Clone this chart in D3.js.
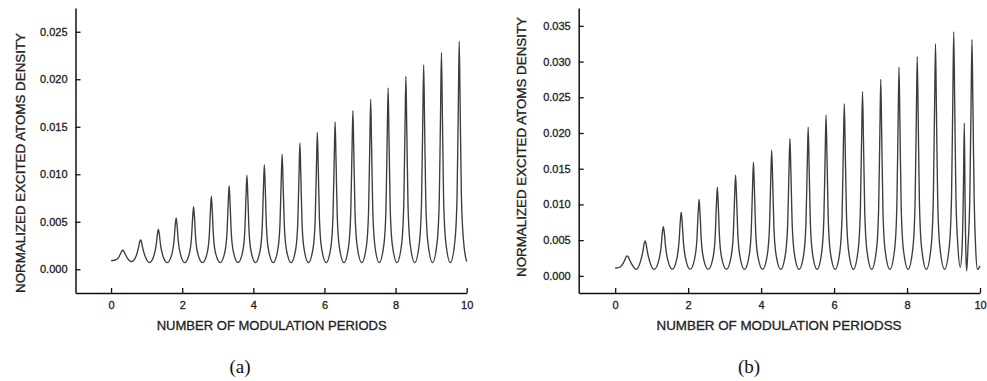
<!DOCTYPE html>
<html>
<head>
<meta charset="utf-8">
<script src="https://cdn.jsdelivr.net/npm/d3@7"></script>
<style>
  html, body { margin: 0; padding: 0; background: #fff; }
  svg { display: block; }
  text { font-family: "Liberation Sans", Arial, sans-serif; }
</style>
</head>
<body>
<svg id="chart" width="987" height="381"></svg>
<script>
// ---------- DATA ----------
const xTicks = [0, 2, 4, 6, 8, 10];
const yTicksA = [0, 0.005, 0.010, 0.015, 0.020, 0.025];
const yTicksB = [0, 0.005, 0.010, 0.015, 0.020, 0.025, 0.030, 0.035];

const xTitleA = "NUMBER OF MODULATION PERIODS";
const xTitleB = "NUMBER OF MODULATION PERIODSS";
const yTitle = "NORMALIZED EXCITED ATOMS DENSITY";
const captions = ["(a)", "(b)"];

// panel (a): modulation periods vs normalized density
const xA = [0, 0.1,
  0.21, 0.27, 0.305, 0.33, 0.355, 0.39, 0.45, 0.58,
  0.71, 0.77, 0.805, 0.83, 0.855, 0.89, 0.95, 1.08,
  1.21, 1.27, 1.305, 1.33, 1.355, 1.39, 1.45, 1.58,
  1.71, 1.77, 1.805, 1.83, 1.855, 1.89, 1.95, 2.07,
  2.20, 2.26, 2.295, 2.32, 2.345, 2.38, 2.44, 2.57,
  2.70, 2.76, 2.795, 2.82, 2.845, 2.88, 2.94, 3.07,
  3.20, 3.26, 3.295, 3.32, 3.345, 3.38, 3.44, 3.57,
  3.70, 3.76, 3.795, 3.82, 3.845, 3.88, 3.94, 4.06,
  4.19, 4.25, 4.285, 4.31, 4.335, 4.37, 4.43, 4.56,
  4.69, 4.75, 4.785, 4.81, 4.835, 4.87, 4.93, 5.06,
  5.19, 5.25, 5.285, 5.31, 5.335, 5.37, 5.43, 5.55,
  5.68, 5.74, 5.775, 5.80, 5.825, 5.86, 5.92, 6.05,
  6.18, 6.24, 6.275, 6.30, 6.325, 6.36, 6.42, 6.55,
  6.68, 6.74, 6.775, 6.80, 6.825, 6.86, 6.92, 7.05,
  7.18, 7.24, 7.275, 7.30, 7.325, 7.36, 7.42, 7.54,
  7.67, 7.73, 7.765, 7.79, 7.815, 7.85, 7.91, 8.04,
  8.17, 8.23, 8.265, 8.29, 8.315, 8.35, 8.41, 8.54,
  8.67, 8.73, 8.765, 8.79, 8.815, 8.85, 8.91, 9.04,
  9.17, 9.23, 9.265, 9.29, 9.315, 9.35, 9.41, 9.54,
  9.67, 9.73, 9.765, 9.79, 9.815, 9.85, 9.91, 10.0];
const yA = [0.0009, 0.00095,
  0.00123, 0.00166, 0.00192, 0.0020, 0.00192, 0.00166, 0.00123, 0.0008,
  0.00144, 0.00224, 0.00289, 0.0031, 0.00289, 0.00224, 0.00144, 0.0007,
  0.0015, 0.00259, 0.00375, 0.0042, 0.00375, 0.00259, 0.0015, 0.0007,
  0.00159, 0.00297, 0.00466, 0.0054, 0.00466, 0.00297, 0.00159, 0.0007,
  0.00163, 0.00323, 0.00549, 0.0066, 0.00549, 0.00323, 0.00163, 0.0007,
  0.00167, 0.00343, 0.00621, 0.0077, 0.00621, 0.00343, 0.00167, 0.0007,
  0.00182, 0.00386, 0.00707, 0.0088, 0.00707, 0.00386, 0.00182, 0.0007,
  0.00183, 0.00401, 0.00773, 0.0099, 0.00773, 0.00401, 0.00183, 0.0007,
  0.00197, 0.00441, 0.00857, 0.0110, 0.00857, 0.00441, 0.00197, 0.0007,
  0.0021, 0.0048, 0.00941, 0.0121, 0.00941, 0.0048, 0.0021, 0.0007,
  0.00207, 0.00485, 0.0100, 0.0133, 0.0100, 0.00485, 0.00207, 0.0007,
  0.00219, 0.00521, 0.01081, 0.0144, 0.01081, 0.00521, 0.00219, 0.0007,
  0.00231, 0.00557, 0.01162, 0.0155, 0.01162, 0.00557, 0.00231, 0.0007,
  0.00244, 0.00596, 0.01251, 0.0167, 0.01251, 0.00596, 0.00244, 0.0007,
  0.00242, 0.0060, 0.01307, 0.0179, 0.01307, 0.0060, 0.00242, 0.0007,
  0.00254, 0.00637, 0.01393, 0.0191, 0.01393, 0.00637, 0.00254, 0.0007,
  0.00266, 0.00674, 0.01479, 0.0203, 0.01479, 0.00674, 0.00266, 0.0007,
  0.00278, 0.00711, 0.01566, 0.0215, 0.01566, 0.00711, 0.00278, 0.0007,
  0.00291, 0.00751, 0.01659, 0.0228, 0.01659, 0.00751, 0.00291, 0.0007,
  0.00303, 0.00788, 0.01745, 0.0240, 0.01745, 0.00788, 0.00303, 0.0008];

// panel (b)
const xB = [0, 0.1,
  0.21, 0.27, 0.305, 0.33, 0.355, 0.39, 0.45, 0.575,
  0.70, 0.76, 0.795, 0.82, 0.845, 0.88, 0.94, 1.07,
  1.20, 1.26, 1.295, 1.32, 1.345, 1.38, 1.44, 1.565,
  1.69, 1.75, 1.785, 1.81, 1.835, 1.87, 1.93, 2.055,
  2.18, 2.24, 2.275, 2.30, 2.325, 2.36, 2.42, 2.55,
  2.68, 2.74, 2.775, 2.80, 2.825, 2.86, 2.92, 3.05,
  3.18, 3.24, 3.275, 3.30, 3.325, 3.36, 3.42, 3.545,
  3.67, 3.73, 3.765, 3.79, 3.815, 3.85, 3.91, 4.04,
  4.17, 4.23, 4.265, 4.29, 4.315, 4.35, 4.41, 4.54,
  4.67, 4.73, 4.765, 4.79, 4.815, 4.85, 4.91, 5.04,
  5.17, 5.23, 5.265, 5.29, 5.315, 5.35, 5.41, 5.535,
  5.66, 5.72, 5.755, 5.78, 5.805, 5.84, 5.90, 6.03,
  6.16, 6.22, 6.255, 6.28, 6.305, 6.34, 6.40, 6.53,
  6.66, 6.72, 6.755, 6.78, 6.805, 6.84, 6.90, 7.03,
  7.16, 7.22, 7.255, 7.28, 7.305, 7.34, 7.40, 7.53,
  7.66, 7.72, 7.755, 7.78, 7.805, 7.84, 7.90, 8.03,
  8.16, 8.22, 8.255, 8.28, 8.305, 8.34, 8.40, 8.53,
  8.66, 8.72, 8.755, 8.78, 8.805, 8.84, 8.90, 9.03,
  9.16, 9.22, 9.255, 9.28, 9.305, 9.34, 9.39, 9.46,
  9.51, 9.545, 9.57, 9.59, 9.61, 9.635,
  9.67, 9.72, 9.755, 9.78, 9.805, 9.84, 9.88, 9.93, 10.0];
const yB = [0.0011, 0.00115,
  0.00168, 0.0023, 0.00269, 0.0028, 0.00269, 0.0023, 0.00168, 0.0009,
  0.00213, 0.00346, 0.00454, 0.0049, 0.00454, 0.00346, 0.00213, 0.0009,
  0.00226, 0.00414, 0.00613, 0.0069, 0.00613, 0.00414, 0.00226, 0.0009,
  0.00241, 0.00476, 0.00764, 0.0089, 0.00764, 0.00476, 0.00241, 0.0009,
  0.00245, 0.0051, 0.00886, 0.0107, 0.00886, 0.0051, 0.00245, 0.0009,
  0.00249, 0.00539, 0.00995, 0.0124, 0.00995, 0.00539, 0.00249, 0.0009,
  0.00272, 0.00605, 0.01129, 0.0141, 0.01129, 0.00605, 0.00272, 0.0009,
  0.00275, 0.0063, 0.01236, 0.0159, 0.01236, 0.0063, 0.00275, 0.0009,
  0.00295, 0.00691, 0.01366, 0.0176, 0.01366, 0.00691, 0.00295, 0.0009,
  0.00315, 0.00749, 0.01488, 0.0192, 0.01488, 0.00749, 0.00315, 0.0009,
  0.00307, 0.00745, 0.01559, 0.0208, 0.01559, 0.00745, 0.00307, 0.0009,
  0.00325, 0.00801, 0.01684, 0.0225, 0.01684, 0.00801, 0.00325, 0.0009,
  0.00343, 0.00853, 0.01802, 0.0241, 0.01802, 0.00853, 0.00343, 0.0009,
  0.00361, 0.00909, 0.01928, 0.0258, 0.01928, 0.00909, 0.00361, 0.0009,
  0.00356, 0.00909, 0.02003, 0.0275, 0.02003, 0.00909, 0.00356, 0.0009,
  0.00373, 0.00962, 0.02125, 0.0292, 0.02125, 0.00962, 0.00373, 0.0009,
  0.00388, 0.01008, 0.02233, 0.0307, 0.02233, 0.01008, 0.00388, 0.0009,
  0.00406, 0.01063, 0.02362, 0.0325, 0.02362, 0.01063, 0.00406, 0.0009,
  0.00423, 0.01116, 0.02484, 0.0342, 0.02484, 0.01116, 0.0045, 0.0012,
  0.004, 0.0120, 0.0214, 0.0110, 0.0035, 0.0007,
  0.0040, 0.0108, 0.0240, 0.0331, 0.0240, 0.0108, 0.0040, 0.0009, 0.0014];

// ---------- DRAWING ----------
const svg = d3.select("#chart");
svg.append("rect").attr("width", 987).attr("height", 381).attr("fill", "#fff");

const panels = [
  { xs: xA, ys: yA, yTicks: yTicksA, yDomain: [-0.0025, 0.0275],
    xRange: [75.5, 466.7], yRange: [293, 8], xTitle: xTitleA, xTitleX: 271.7, xTitleLen: 230,
    yTitleX: 21, yTitleY: 163, caption: captions[0], capX: 240 },
  { xs: xB, ys: yB, yTicks: yTicksB, yDomain: [-0.0024, 0.0375],
    xRange: [578.7, 980], yRange: [293, 8], xTitle: xTitleB, xTitleX: 779, xTitleLen: 245,
    yTitleX: 522, yTitleY: 147, caption: captions[1], capX: 749 }
];

panels.forEach(p => {
  const x = d3.scaleLinear().domain([-1, 10]).range(p.xRange);
  const y = d3.scaleLinear().domain(p.yDomain).range(p.yRange);
  const g = svg.append("g");

  // curve
  const pts = p.xs.map((v, i) => [v, p.ys[i]]);
  g.append("path")
    .datum(pts)
    .attr("fill", "none")
    .attr("stroke", "#3c3c3c")
    .attr("stroke-width", 1.35)
    .attr("stroke-linejoin", "round")
    .attr("d", d3.line().x(d => x(d[0])).y(d => y(d[1])).curve(d3.curveMonotoneX));

  // axes
  const xAxis = d3.axisBottom(x).tickValues(xTicks).tickFormat(d3.format("d"))
    .tickSizeInner(-5).tickSizeOuter(0).tickPadding(8);
  const yAxis = d3.axisLeft(y).tickValues(p.yTicks).tickFormat(d3.format(".3f"))
    .tickSizeInner(-5).tickSizeOuter(0).tickPadding(8);

  const gx = g.append("g").attr("transform", `translate(0,${p.yRange[0]})`).call(xAxis);
  const gy = g.append("g").attr("transform", `translate(${p.xRange[0]},0)`).call(yAxis);
  [gx, gy].forEach(a => {
    a.select(".domain").attr("stroke", "#111").attr("stroke-width", 1.5);
    a.selectAll(".tick line").attr("stroke", "#111").attr("stroke-width", 1.3);
    a.selectAll(".tick text").attr("fill", "#222")
      .attr("stroke", "#222").attr("stroke-width", 0.3)
      .style("font-size", "11px")
      .style("font-family", "'Liberation Sans', Arial, sans-serif");
  });

  // titles
  g.append("text")
    .attr("x", p.xTitleX).attr("y", 330)
    .attr("text-anchor", "middle")
    .attr("fill", "#222").attr("stroke", "#222").attr("stroke-width", 0.3)
    .style("font-size", "12px")
    .attr("textLength", p.xTitleLen).attr("lengthAdjust", "spacingAndGlyphs")
    .text(p.xTitle);

  g.append("text")
    .attr("transform", `translate(${p.yTitleX},${p.yTitleY}) rotate(-90)`)
    .attr("text-anchor", "middle").attr("dy", "0.35em")
    .attr("fill", "#222").attr("stroke", "#222").attr("stroke-width", 0.3)
    .style("font-size", "12px")
    .attr("textLength", 260).attr("lengthAdjust", "spacingAndGlyphs")
    .text(yTitle);

  g.append("text")
    .attr("x", p.capX).attr("y", 373)
    .attr("text-anchor", "middle")
    .attr("fill", "#111")
    .style("font-family", "'Liberation Serif', 'Times New Roman', serif")
    .style("font-size", "19px")
    .text(p.caption);
});
</script>
</body>
</html>
